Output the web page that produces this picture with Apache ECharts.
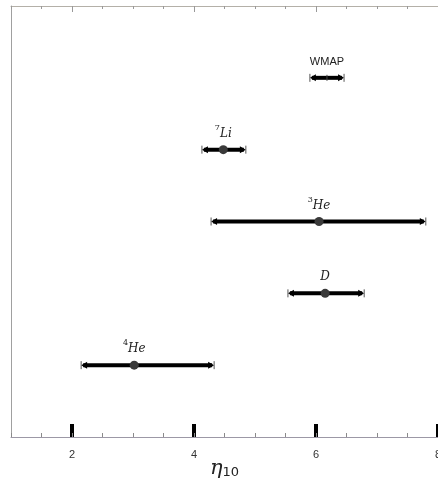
<!DOCTYPE html>
<html><head><meta charset="utf-8">
<script src="https://cdn.jsdelivr.net/npm/echarts@6/dist/echarts.min.js"></script>
<style>html,body{margin:0;padding:0;background:#fff}#c{width:438px;height:478px}</style>
</head><body><div id="c"></div>
<script>
// Data
const massNumbers = ['4', '', '3', '7', ''];
const symbols = ['He', 'D', 'He', 'Li', 'WMAP'];
const rows = [0, 1, 2, 3, 4];
const lows = [2.15, 5.54, 4.28, 4.13, 5.90];
const highs = [4.33, 6.79, 7.80, 4.85, 6.46];
const centers = [3.02, 6.15, 6.05, 4.48, 6.18];
const hasDot = [true, true, true, true, false];
const majorTicks = [2, 4, 6, 8];
const topMajorTicks = [2, 4, 6];

const chart = echarts.init(document.getElementById('c'), null, {renderer: 'canvas'});
const axisGray = '#9c98a6';

const option = {
  animation: false,
  backgroundColor: '#fff',
  grid: {left: 11, right: 0, top: 6, bottom: 41, containLabel: false, outerBoundsMode: 'none'},
  xAxis: [
    {
      type: 'value', min: 1, max: 8, position: 'bottom',
      axisLine: {show: true, onZero: false, lineStyle: {color: axisGray, width: 1}},
      axisTick: {show: true, inside: true, length: 13, customValues: majorTicks, lineStyle: {color: '#000', width: 4}},
      axisLabel: {show: true, customValues: majorTicks, color: '#333', fontSize: 11, margin: 12, fontFamily: 'Liberation Sans'},
      splitLine: {show: false},
      name: '{e|η}{s|10}', nameLocation: 'middle', nameGap: 22, nameMoveOverlap: false,
      nameTextStyle: {
        lineHeight: 20,
        rich: {
          e: {fontFamily: 'DejaVu Serif', fontStyle: 'italic', fontSize: 21, color: '#222', lineHeight: 20, verticalAlign: 'bottom'},
          s: {fontFamily: 'DejaVu Sans', fontSize: 13, color: '#222', lineHeight: 20, verticalAlign: 'bottom'}
        }
      }
    },
    {
      type: 'value', min: 1, max: 8, interval: 0.5, position: 'bottom',
      axisLine: {show: false, onZero: false},
      axisTick: {show: true, inside: true, length: 4, lineStyle: {color: '#8a8a8a', width: 1}},
      axisLabel: {show: false}, splitLine: {show: false}
    },
    {
      type: 'value', min: 1, max: 8, interval: 0.5, position: 'top',
      axisLine: {show: true, onZero: false, lineStyle: {color: '#b4b0a8', width: 1}},
      axisTick: {show: true, inside: true, length: 3, lineStyle: {color: '#999', width: 1}},
      axisLabel: {show: false}, splitLine: {show: false}
    },
    {
      type: 'value', min: 1, max: 8, position: 'top',
      axisLine: {show: false, onZero: false},
      axisTick: {show: true, inside: true, length: 6, customValues: topMajorTicks, lineStyle: {color: '#999', width: 1}},
      axisLabel: {show: false}, splitLine: {show: false}
    }
  ],
  yAxis: [
    {
      type: 'value', min: -1, max: 5, interval: 1, position: 'left',
      axisLine: {show: true, onZero: false, lineStyle: {color: '#a0a0a0', width: 1}},
      axisTick: {show: false}, axisLabel: {show: false}, splitLine: {show: false}
    },
    {
      type: 'value', min: -1, max: 5, interval: 1, position: 'right',
      axisLine: {show: true, onZero: false, lineStyle: {color: '#ececec', width: 1}},
      axisTick: {show: false}, axisLabel: {show: false}, splitLine: {show: false}
    }
  ],
  series: [{
    type: 'custom',
    xAxisIndex: 0, yAxisIndex: 0,
    data: rows.map((r, i) => [lows[i], highs[i], centers[i], r]),
    encode: {x: [0, 1, 2], y: 3},
    renderItem: function (params, api) {
      const i = params.dataIndex;
      const lo = api.coord([api.value(0), api.value(3)]);
      const hi = api.coord([api.value(1), api.value(3)]);
      const c = api.coord([api.value(2), api.value(3)]);
      const y = lo[1];
      const ch = [];
      ch.push({type: 'line', shape: {x1: lo[0] + 2, y1: y, x2: hi[0] - 2, y2: y},
        style: {stroke: '#000', lineWidth: 4}});
      ch.push({type: 'polygon', shape: {points: [[lo[0], y], [lo[0] + 6, y - 3.5], [lo[0] + 6, y + 3.5]]},
        style: {fill: '#000'}});
      ch.push({type: 'polygon', shape: {points: [[hi[0], y], [hi[0] - 6, y - 3.5], [hi[0] - 6, y + 3.5]]},
        style: {fill: '#000'}});
      ch.push({type: 'line', shape: {x1: lo[0], y1: y - 4, x2: lo[0], y2: y + 4},
        style: {stroke: '#555', lineWidth: 1}});
      ch.push({type: 'line', shape: {x1: hi[0], y1: y - 4, x2: hi[0], y2: y + 4},
        style: {stroke: '#555', lineWidth: 1}});
      if (hasDot[i]) {
        ch.push({type: 'circle', shape: {cx: c[0], cy: y, r: 4.5}, style: {fill: '#3a3a3a'}});
      } else {
        ch.push({type: 'line', shape: {x1: c[0], y1: y - 3, x2: c[0], y2: y + 3},
          style: {stroke: '#444', lineWidth: 1}});
      }
      const isWmap = symbols[i] === 'WMAP';
      const txt = isWmap ? '{w|' + symbols[i] + '}'
        : (massNumbers[i] ? '{sup|' + massNumbers[i] + '}' : '') + '{it|' + symbols[i] + '}';
      ch.push({type: 'text', style: {
        text: txt, x: c[0], y: y - (isWmap ? 16 : 18), align: 'center', verticalAlign: 'middle',
        rich: {
          w: {fontFamily: 'Liberation Sans', fontSize: 11, fill: '#222', lineHeight: 16},
          sup: {fontFamily: 'DejaVu Serif', fontSize: 8, fill: '#222', lineHeight: 16, verticalAlign: 'top'},
          it: {fontFamily: 'DejaVu Serif', fontStyle: 'italic', fontSize: 12, fill: '#222', lineHeight: 16, verticalAlign: 'bottom'}
        }
      }});
      return {type: 'group', children: ch};
    }
  }]
};
chart.setOption(option);
</script>
</body></html>
